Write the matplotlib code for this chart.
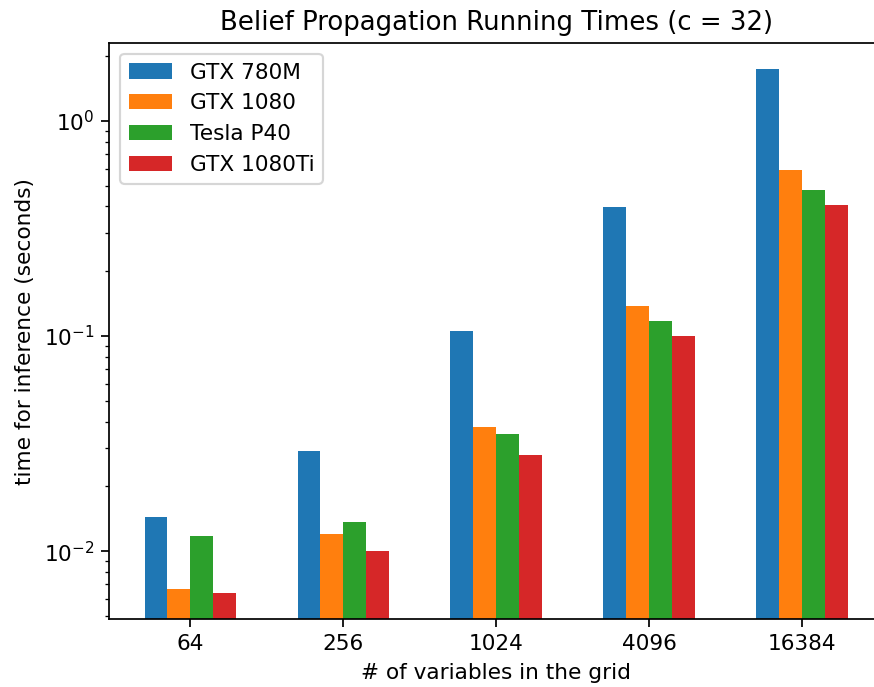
import matplotlib
matplotlib.use('Agg')
import matplotlib.pyplot as plt
import numpy as np

# grid sizes (number of variables)
sizes = ['64', '256', '1024', '4096', '16384']
gpus = ['GTX 780M', 'GTX 1080', 'Tesla P40', 'GTX 1080Ti']

# inference times in seconds
t_780m = [0.0144, 0.0292, 0.1054, 0.397, 1.738]
t_1080 = [0.00666, 0.0120, 0.0377, 0.1377, 0.590]
t_p40 = [0.01174, 0.01364, 0.0350, 0.1173, 0.476]
t_1080ti = [0.00638, 0.0100, 0.0279, 0.0999, 0.406]

colors = ['#1f77b4', '#ff7f0e', '#2ca02c', '#d62728']


def main():
    dpi = 156
    fig = plt.figure(figsize=(874 / dpi, 687 / dpi), dpi=dpi)
    # the right edge of the axes runs slightly past the saved image
    ax = fig.add_axes([0.1251, 0.0985, 1.0108 - 0.1251, 0.9374 - 0.0985])

    x = np.arange(len(sizes))
    width = 0.15
    series = [t_780m, t_1080, t_p40, t_1080ti]
    for i, (vals, name) in enumerate(zip(series, gpus)):
        ax.bar(x + (i - 1.5) * width, vals, width, color=colors[i], label=name)

    ax.set_yscale('log')
    ax.set_ylim(0.00482, 2.30)
    ax.set_xlim(-0.53, 4.53)
    ax.set_xticks(x)
    ax.set_xticklabels(sizes)

    ax.set_title('Belief Propagation Running Times (c = 32)')
    ax.set_xlabel('# of variables in the grid')
    ax.set_ylabel('time for inference (seconds)')
    ax.legend(loc='upper left')

    fig.savefig('out.png', dpi=dpi)


if __name__ == "__main__":
    main()
